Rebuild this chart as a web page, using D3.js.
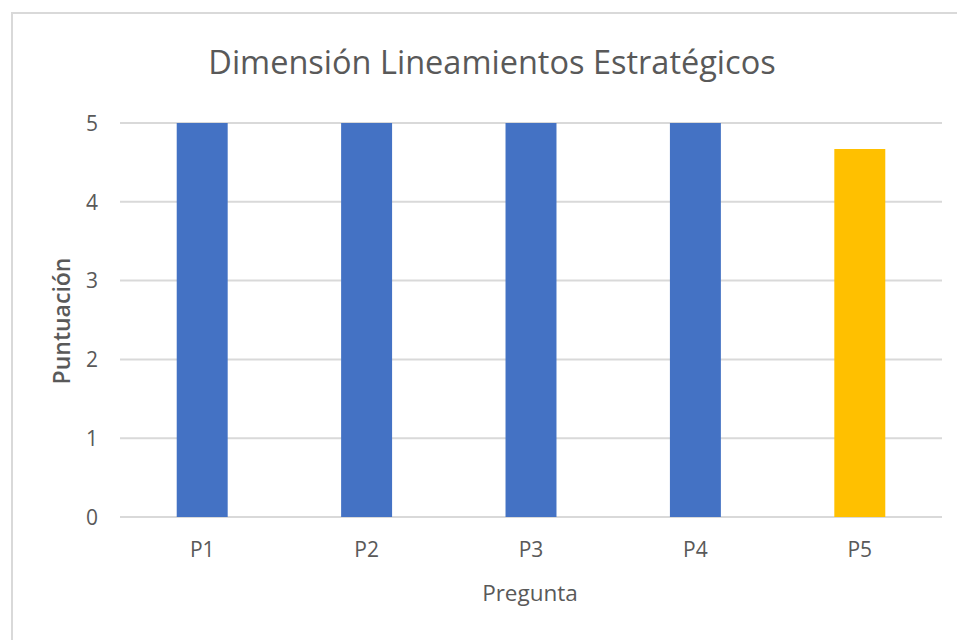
<!DOCTYPE html>
<html>
<head>
<meta charset="utf-8">
<script src="https://cdn.jsdelivr.net/npm/d3@7"></script>
<style>
  body { margin: 0; background: #fff; }
  text { font-family: "Open Sans", "Noto Sans", sans-serif; fill: #595959; }
</style>
</head>
<body>
<svg id="chart" width="957" height="640"></svg>
<script>
// data
var categories = ["P1", "P2", "P3", "P4", "P5"];
var values = [5, 5, 5, 5, 4.67];
var barColors = ["#4472C4", "#4472C4", "#4472C4", "#4472C4", "#FFC000"];
var yTicks = [0, 1, 2, 3, 4, 5];
var title = "Dimensión Lineamientos Estratégicos";
var xTitle = "Pregunta";
var yTitle = "Puntuación";

var svg = d3.select("#chart");

// chart border (runs off the right/bottom of the picture)
svg.append("rect")
    .attr("x", 12).attr("y", 13)
    .attr("width", 1000).attr("height", 700)
    .attr("fill", "none")
    .attr("stroke", "#d9d9d9")
    .attr("stroke-width", 2);

var x = d3.scaleBand()
    .domain(categories)
    .range([120, 942])
    .paddingInner(0.69)
    .paddingOuter(0.345);

var y = d3.scaleLinear()
    .domain([0, 5])
    .range([517, 123]);

// gridlines
svg.append("g")
    .selectAll("line")
    .data(yTicks)
    .enter()
    .append("line")
    .attr("x1", 120)
    .attr("x2", 942)
    .attr("y1", function (d) {return y(d);})
    .attr("y2", function (d) {return y(d);})
    .attr("stroke", "#d9d9d9")
    .attr("stroke-width", 2);

// bars
svg.append("g")
    .selectAll("rect")
    .data(values)
    .enter()
    .append("rect")
    .attr("x", function (d, i) {return x(categories[i]);})
    .attr("width", x.bandwidth())
    .attr("y", function (d) {return y(d);})
    .attr("height", function (d) {return y(0) - y(d);})
    .attr("fill", function (d, i) {return barColors[i];});

// y tick labels
var yAxis = svg.append("g")
    .attr("transform", "translate(98,0)")
    .call(d3.axisLeft(y).tickValues(yTicks).tickFormat(d3.format("d")).tickSize(0).tickPadding(0));
yAxis.select(".domain").remove();
yAxis.selectAll("text")
    .attr("font-size", 21)
    .attr("font-family", null)
    .attr("fill", "#595959")
    .attr("dy", "0.35em");

// x tick labels
var xAxis = svg.append("g")
    .attr("transform", "translate(0,517)")
    .call(d3.axisBottom(x).tickSize(0).tickPadding(25));
xAxis.select(".domain").remove();
xAxis.selectAll("text")
    .attr("font-size", 21)
    .attr("font-family", null)
    .attr("fill", "#595959");

// titles
svg.append("text")
    .attr("x", 492)
    .attr("y", 74)
    .attr("text-anchor", "middle")
    .attr("font-size", 32.5)
    .text(title);

svg.append("text")
    .attr("x", 530)
    .attr("y", 601)
    .attr("text-anchor", "middle")
    .attr("font-size", 22.5)
    .text(xTitle);

svg.append("text")
    .attr("transform", "translate(70,321) rotate(-90)")
    .attr("text-anchor", "middle")
    .attr("font-size", 23)
    .attr("font-weight", 600)
    .text(yTitle);
</script>
</body>
</html>
